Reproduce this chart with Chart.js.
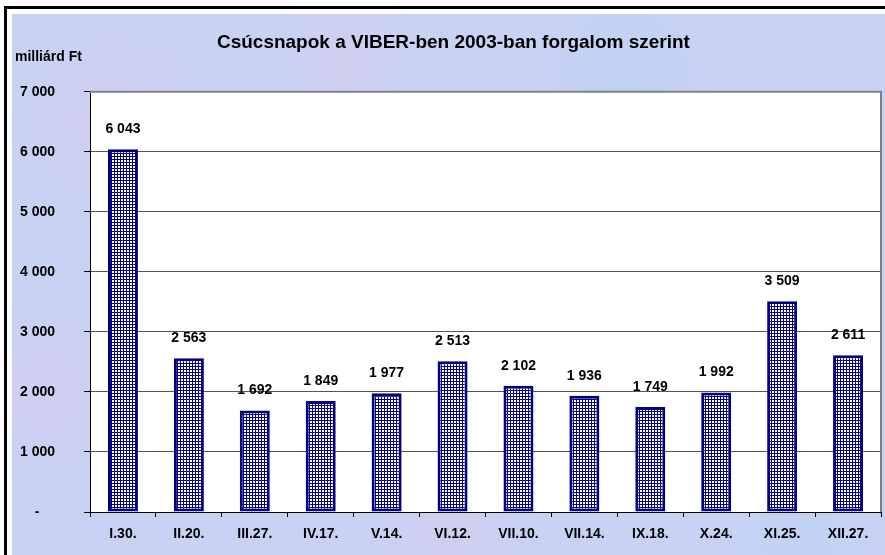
<!DOCTYPE html>
<html>
<head>
<meta charset="utf-8">
<script src="https://cdn.jsdelivr.net/npm/chart.js@4"></script>
<style>
  html, body { margin: 0; padding: 0; background: #fff; }
  #wrap { position: relative; width: 885px; height: 555px; overflow: hidden; background: #fff; }
  #frame {
    position: absolute; left: 4px; top: 6px; width: 900px; height: 600px;
    border-left: 3px solid #000; border-top: 3px solid #000; background: #fff;
  }
  #bg {
    position: absolute; left: 12px; top: 14px; right: 0; bottom: 0;
    background-color: #c8d2f3;
    background-image:
      radial-gradient(circle at 12% 20%, rgba(222,200,236,.45), transparent 12%),
      radial-gradient(circle at 38% 8%, rgba(224,200,234,.4), transparent 10%),
      radial-gradient(circle at 70% 12%, rgba(184,208,246,.5), transparent 12%),
      radial-gradient(circle at 4% 70%, rgba(222,200,236,.4), transparent 10%),
      radial-gradient(circle at 50% 96%, rgba(222,200,236,.4), transparent 12%),
      radial-gradient(circle at 90% 96%, rgba(186,210,246,.5), transparent 10%);
  }
  canvas { position: absolute; left: 0; top: 0; }
</style>
</head>
<body>
<div id="wrap">
  <div id="frame"></div>
  <div id="bg"></div>
  <canvas id="chart" width="885" height="555"></canvas>
</div>
<script>
// ─── Data ────────────────────────────────────────────────────
const days = ["I.30.", "II.20.", "III.27.", "IV.17.", "V.14.", "VI.12.",
              "VII.10.", "VII.14.", "IX.18.", "X.24.", "XI.25.", "XII.27."];
const turnover = [6043, 2563, 1692, 1849, 1977, 2513, 2102, 1936, 1749, 1992, 3509, 2611];
const yTicks = [0, 1000, 2000, 3000, 4000, 5000, 6000, 7000];

// leading spaces nudge the centred title a little to the right, as in the original
const titleText = "   Csúcsnapok a VIBER-ben 2003-ban forgalom szerint";
const unitText = "milliárd Ft";
const FONT = "'Liberation Sans', Arial, sans-serif";
const NAVY = "#000080";

const fmt = v => String(v).replace(/\B(?=(\d{3})+(?!\d))/g, " ");

// small navy grid fill, like the Excel pattern
function gridPattern() {
  const c = document.createElement("canvas");
  c.width = 3; c.height = 3;
  const g = c.getContext("2d");
  g.fillStyle = NAVY;
  g.fillRect(0, 0, 3, 3);
  g.fillStyle = "#fff";
  g.fillRect(1, 1, 2, 2);
  return g.createPattern(c, "repeat");
}

// ─── Plugins ─────────────────────────────────────────────────
const plotFrame = {
  id: "plotFrame",
  beforeDraw(chart) {
    const { ctx, chartArea: a } = chart;
    ctx.save();
    ctx.fillStyle = "#fff";
    ctx.fillRect(a.left, a.top, a.right - a.left, a.bottom - a.top);
    ctx.restore();
  },
  afterDraw(chart) {
    const { ctx, chartArea: a } = chart;
    ctx.save();
    ctx.strokeStyle = "#808080";
    ctx.lineWidth = 2;
    ctx.beginPath();
    ctx.moveTo(a.left, a.top);
    ctx.lineTo(a.right, a.top);
    ctx.lineTo(a.right, a.bottom);
    ctx.stroke();
    ctx.restore();
  }
};

const valueLabels = {
  id: "valueLabels",
  afterDatasetsDraw(chart) {
    const { ctx, chartArea: a } = chart;
    ctx.save();
    ctx.fillStyle = "#000";
    ctx.font = "bold 14px " + FONT;
    ctx.textAlign = "center";
    ctx.textBaseline = "alphabetic";
    chart.getDatasetMeta(0).data.forEach((bar, i) => {
      ctx.fillText(fmt(turnover[i]), bar.x, bar.y - 16);
    });
    // unit label above the value axis
    ctx.textAlign = "left";
    ctx.fillText(unitText, 15, a.top - 31);
    ctx.restore();
  }
};

// ─── Chart ───────────────────────────────────────────────────
new Chart(document.getElementById("chart"), {
  type: "bar",
  data: {
    labels: days,
    datasets: [{
      data: turnover,
      backgroundColor: gridPattern(),
      borderColor: NAVY,
      borderWidth: 3,
      borderSkipped: false,
      categoryPercentage: 1,
      barPercentage: 0.455,
    }]
  },
  options: {
    responsive: false,
    animation: false,
    layout: { padding: { left: 10, right: 4, top: 0, bottom: 0 } },
    plugins: {
      legend: { display: false },
      tooltip: { enabled: false },
      title: {
        display: true,
        text: titleText,
        color: "#000",
        font: { family: FONT, size: 19, weight: "bold" },
        padding: { top: 31, bottom: 38 },
      }
    },
    scales: {
      x: {
        grid: { display: true, drawOnChartArea: false, drawTicks: true, tickLength: 5, tickColor: "#000", offset: true },
        border: { color: "#000", width: 1 },
        ticks: { color: "#000", padding: 9, maxRotation: 0, font: { family: FONT, size: 14, weight: "bold" } },
        afterFit: s => { s.height = 43; },
      },
      y: {
        min: 0,
        max: 7000,
        afterBuildTicks: s => { s.ticks = yTicks.map(v => ({ value: v })); },
        grid: { color: "#555", lineWidth: 1, tickColor: "#000", tickLength: 6 },
        border: { color: "#000", width: 1 },
        ticks: {
          color: "#000",
          padding: 29,
          font: { family: FONT, size: 14, weight: "bold" },
          callback: v => v === 0 ? "-    " : fmt(v),
        },
        afterFit: s => { s.width = 80; },
      }
    }
  },
  plugins: [plotFrame, valueLabels]
});
</script>
</body>
</html>
